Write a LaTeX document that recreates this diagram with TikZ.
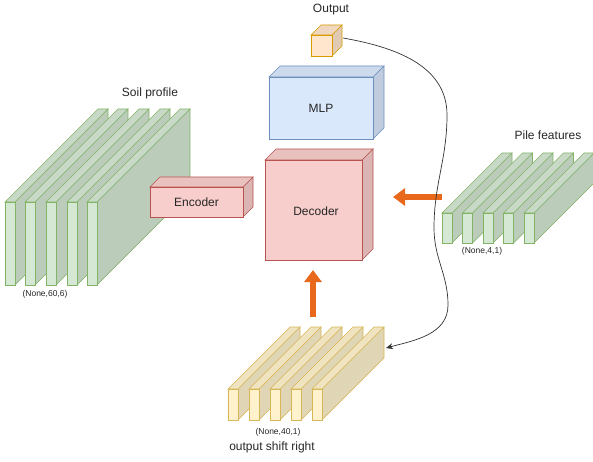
\documentclass[tikz,border=0pt]{standalone}
\usepackage{fontspec}
\setmainfont{Liberation Sans}
\usetikzlibrary{arrows.meta}

% draw.io colours: F = front, T = top, S = side, D = line
\definecolor{grF}{HTML}{D5E8D4}
\definecolor{grD}{HTML}{82B366}
\colorlet{grT}{grF!94!black}
\colorlet{grS}{grF!88!black}
\definecolor{rdF}{HTML}{F8CECC}
\definecolor{rdD}{HTML}{B85450}
\colorlet{rdT}{rdF!94!black}
\colorlet{rdS}{rdF!88!black}
\definecolor{blF}{HTML}{DAE8FC}
\definecolor{blD}{HTML}{6C8EBF}
\colorlet{blT}{blF!94!black}
\colorlet{blS}{blF!88!black}
\definecolor{ylF}{HTML}{FFF2CC}
\definecolor{ylD}{HTML}{D6B656}
\colorlet{ylT}{ylF!94!black}
\colorlet{ylS}{ylF!88!black}
\definecolor{orF}{HTML}{FFE6CC}
\definecolor{orD}{HTML}{D79B00}
\colorlet{orT}{orF!94!black}
\colorlet{orS}{orF!88!black}
\definecolor{orA}{HTML}{E8681C}

% box: x, y (front top left), width, height, depth, colour set
\newcommand{\drawbox}[6]{%
  \filldraw[draw=#6D, fill=#6S] (#1+#3,#2) -- ++(#5,-#5) -- ++(0,#4) -- ++(-#5,#5) -- cycle;
  \filldraw[draw=#6D, fill=#6T] (#1,#2) -- ++(#5,-#5) -- ++(#3,0) -- ++(-#5,#5) -- cycle;
  \filldraw[draw=#6D, fill=#6F] (#1,#2) rectangle ++(#3,#4);
}

\begin{document}
\begin{tikzpicture}[x=1pt,y=-1pt,line width=0.6pt,
  lbl/.style={font=\fontsize{12}{14}\selectfont, text=black!85},
  dimlbl/.style={font=\fontsize{8.5}{10}\selectfont, text=black!85},
  fatarrow/.style={draw=orA, line width=5.5pt, -{Triangle[length=12pt,width=17pt]}},
  link/.style={draw=black!80, line width=0.7pt, -{Stealth[length=7pt,width=6pt]}}]
\useasboundingbox (0,0) rectangle (593,462);

% soil profile:
\foreach \x in {5,25,46,67,87} {\drawbox{\x}{202}{10}{83}{93}{gr}}
\node[lbl] (soil) at (150,93) {Soil profile};
\node[dimlbl] (soil-dim) at (45,294) {(None,60,6)};

% encoder:
\drawbox{150}{187}{93}{30}{10}{rd}
\node[lbl] (enc) at (196.5,202) {Encoder};

% output, MLP, decoder:
\drawbox{311}{35}{21}{21}{10}{or}
\node[lbl] (out) at (331,10) {Output};

\drawbox{269}{77}{104}{62}{11}{bl}
\node[lbl] (mlp) at (321,108) {MLP};

\drawbox{265}{160}{97}{100}{11}{rd}
\node[lbl] (dec) at (316,211) {Decoder};

% pile features:
\foreach \x in {442,462.5,483,503.5,524} {\drawbox{\x}{213}{10}{30}{60}{gr}}
\node[lbl] (pile) at (548,135) {Pile features};
\node[dimlbl] (pile-dim) at (482,251) {(None,4,1)};

% output shift right:
\foreach \x in {228,249,270,291,312} {\drawbox{\x}{389}{10}{31}{62}{yl}}
\node[dimlbl] (shift-dim) at (278,432) {(None,40,1)};
\node[lbl] (shift) at (272,447) {output shift right};

% arrows:
\coordinate (pile-tail) at (442,197);
\coordinate (dec-right) at (393,197);
\coordinate (shift-top) at (313,317);
\coordinate (dec-bottom) at (313,270);
\draw[fatarrow] (pile-tail) -- (dec-right);
\draw[fatarrow] (shift-top) -- (dec-bottom);

\coordinate (out-r) at (343,38);
\coordinate (bend1) at (447,115);
\coordinate (bend2) at (434,228);
\coordinate (bend3) at (448,305);
\coordinate (shift-r) at (386,348);
\draw[link] (out-r) to[out=-10,in=90] (bend1) to[out=-90,in=90] (bend2)
  to[out=-90,in=90] (bend3) to[out=-90,in=15] (shift-r);

\end{tikzpicture}
\end{document}
